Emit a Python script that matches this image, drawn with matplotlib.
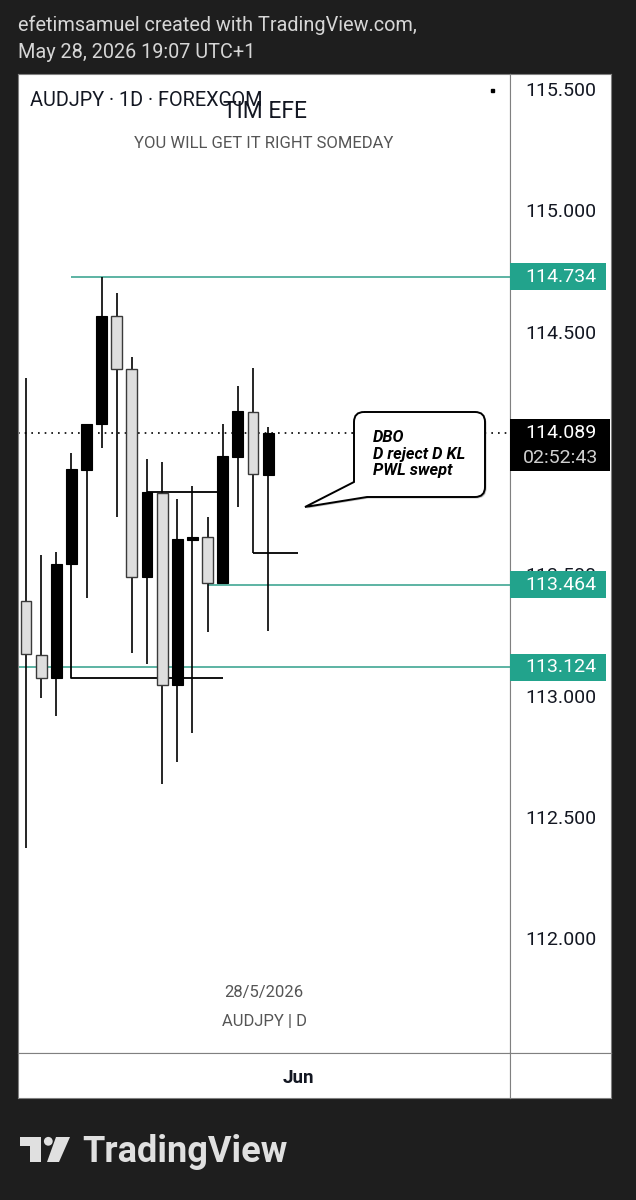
import numpy as np
import matplotlib.pyplot as plt
from matplotlib.patches import Rectangle, PathPatch, Polygon, Circle
from matplotlib.path import Path
from matplotlib.transforms import blended_transform_factory

plt.rcParams['font.family'] = ['Roboto', 'DejaVu Sans']

# daily candles, AUDJPY (oldest -> newest, last one = 28 May)
opens = [113.399, 113.176, 113.082, 113.550, 113.938, 114.127, 114.573, 114.354, 113.497,
         113.843, 113.052, 113.649, 113.662, 113.472, 113.991, 114.177, 113.917]
highs = [114.317, 113.587, 113.600, 114.008, 114.127, 114.734, 114.667, 114.404, 113.983,
         113.971, 113.818, 113.872, 113.744, 114.127, 114.284, 114.358, 114.115]
lows = [112.380, 112.998, 112.924, 113.550, 113.410, 114.028, 113.744, 113.183, 113.138,
        112.643, 112.734, 112.854, 113.270, 113.472, 113.785, 113.596, 113.274]
closes = [113.179, 113.082, 113.550, 113.942, 114.127, 114.573, 114.354, 113.497, 113.847,
          113.052, 113.653, 113.662, 113.472, 113.996, 114.181, 113.921, 114.089]

tick_prices = [115.5, 115.0, 114.5, 114.0, 113.5, 113.0, 112.5, 112.0]
level_prices = [114.734, 113.464, 113.124]
level_start = [3, 12, None]
current_price = 114.089
countdown = '02:52:43'

# drawn rays (bar index, price)
ray_x = [[3, 3, 13], [8, 13], [15, 18]]
ray_y = [[113.55, 113.08, 113.08], [113.847, 113.847], [113.596, 113.596]]

month_label = 'Jun'
month_idx = 18

TEAL = '#22a38c'
TEAL_LINE = '#4fae9c'
INK = '#131722'

W, H = 636, 1200
fig = plt.figure(figsize=(W / 100, H / 100), dpi=100, facecolor='#1e1e1e')


def frac(x0, y0, x1, y1):
    return [x0 / W, 1 - y1 / H, (x1 - x0) / W, (y1 - y0) / H]


ax = fig.add_axes(frac(18, 74, 510, 1053))
ax_p = fig.add_axes(frac(510, 74, 611, 1053), sharey=ax)
ax_t = fig.add_axes(frac(18, 1053, 510, 1098), sharex=ax)
ax_c = fig.add_axes(frac(510, 1053, 611, 1098))

x_left, x_right = -0.53, 31.99
y_bot, y_top = 111.535, 115.570
ax.set_xlim(x_left, x_right)
ax.set_ylim(y_bot, y_top)
ax_p.set_xlim(0, 101)
ax_t.set_ylim(0, 1)

for a in (ax, ax_p, ax_t, ax_c):
    a.set_facecolor('white')
    a.tick_params(left=False, bottom=False, labelleft=False, labelbottom=False)
    for s in a.spines.values():
        s.set_color('#808080')
        s.set_linewidth(0.8)
ax_c.set_xticks([])
ax_c.set_yticks([])

# candles
idx = np.arange(len(opens))
o = np.array(opens)
c = np.array(closes)
up = c >= o
body = np.abs(c - o)
ax.vlines(idx, lows, highs, color='black', lw=1.2, zorder=2)
ax.bar(idx[up], body[up], bottom=o[up], width=0.72, color='black',
       edgecolor='black', lw=0.8, zorder=3)
ax.bar(idx[~up], body[~up], bottom=c[~up], width=0.72, color='#dedede',
       edgecolor='#3a3a3a', lw=1.0, zorder=3)

# horizontal levels
for p, s in zip(level_prices, level_start):
    x0 = x_left if s is None else s
    ax.hlines(p, x0, x_right, color=TEAL_LINE, lw=1.3, zorder=1)

ax.axhline(current_price, color='black', lw=1.2, ls=(0, (1, 3)), zorder=1.5)

for rx, ry in zip(ray_x, ray_y):
    ax.plot(rx, ry, color='black', lw=1.3, zorder=2.5, solid_capstyle='butt')

# price scale
ppu = 979 / (y_top - y_bot)
box_top = current_price + 14.4 / ppu
box_bot = current_price - 37.6 / ppu
for t in tick_prices:
    if box_bot < t < box_top:
        continue  # fully hidden behind the last-price label
    ax_p.text(51, t, f'{t:.3f}', ha='center', va='center', fontsize=14, color=INK, zorder=2)

half = 13.5 / ppu
for p in level_prices:
    ax_p.add_patch(Rectangle((0, p - half), 96, 2 * half, color=TEAL, zorder=3, lw=0))
    ax_p.text(51, p, f'{p:.3f}', ha='center', va='center', fontsize=14, color='white', zorder=4)

ax_p.add_patch(Rectangle((0, box_bot), 100, box_top - box_bot, color='black', zorder=3, lw=0))
ax_p.text(51, current_price, f'{current_price:.3f}', ha='center', va='center',
          fontsize=14, color='white', zorder=4)
ax_p.text(51, current_price - 24.5 / ppu, countdown, ha='center', va='center',
          fontsize=14, color='#d0d0d0', zorder=4)

# time axis
ax_t.text(month_idx, 0.45, month_label,
          transform=blended_transform_factory(ax_t.transData, ax_t.transAxes),
          ha='center', va='center', fontsize=13.5, fontweight='bold', color=INK)

# overlay in pixel coordinates for texts / drawings
ov = fig.add_axes([0, 0, 1, 1], zorder=10)
ov.set_xlim(0, W)
ov.set_ylim(H, 0)
ov.axis('off')
ov.patch.set_alpha(0)

ov.text(18, 25, 'efetimsamuel created with TradingView.com,', ha='left', va='center',
        fontsize=14.3, color='#d6d6d6')
ov.text(18, 53, 'May 28, 2026 19:07 UTC+1', ha='left', va='center', fontsize=14.3, color='#d6d6d6')

ov.text(30, 100, 'AUDJPY · 1D · FOREXCOM', ha='left', va='center', fontsize=14.3, color=INK)
ov.text(265, 111, 'TIM EFE', ha='center', va='center', fontsize=16.5, color=INK)
ov.text(264, 143, 'YOU WILL GET IT RIGHT SOMEDAY', ha='center', va='center', fontsize=12, color='#555555')
ov.add_patch(Rectangle((490.5, 88.5), 3, 3, color='black'))

ov.text(264, 993, '28/5/2026', ha='center', va='center', fontsize=12, color='#555555')
ov.text(264, 1021, 'AUDJPY | D', ha='center', va='center', fontsize=12, color='#555555')

# callout
x0, x1, y0, y1, r = 354, 485, 412, 497, 10
verts = [(x0 + r, y0), (x1 - r, y0), (x1, y0), (x1, y0 + r), (x1, y1 - r), (x1, y1), (x1 - r, y1),
         (367, y1), (305, 507), (x0, 482), (x0, y0 + r), (x0, y0), (x0 + r, y0)]
codes = [Path.MOVETO, Path.LINETO, Path.CURVE3, Path.CURVE3, Path.LINETO, Path.CURVE3, Path.CURVE3,
         Path.LINETO, Path.LINETO, Path.LINETO, Path.LINETO, Path.CURVE3, Path.CURVE3]
shadow = Path([(vx + 1.5, vy + 1.5) for vx, vy in verts], codes)
ov.add_patch(PathPatch(shadow, fc='#c4c4c4', ec='none', zorder=1))
ov.add_patch(PathPatch(Path(verts, codes), fc='white', ec='black', lw=1.4, zorder=2))
for i, line in enumerate(['DBO', 'D reject D KL', 'PWL swept']):
    ov.text(373, 437 + 17 * i, line, ha='left', va='center', fontsize=11.8,
            fontweight='bold', fontstyle='italic', color='black', zorder=3)

# TradingView logo
logo = '#e0e0e0'
ov.add_patch(Polygon([(19.5, 1137), (40.5, 1137), (40.5, 1162), (29.5, 1162), (29.5, 1146),
                      (19.5, 1146)], closed=True, fc=logo, ec='none'))
ov.add_patch(Circle((48.3, 1141.3), 4.4, fc=logo, ec='none'))
ov.add_patch(Polygon([(56, 1137), (70, 1137), (59, 1162), (47, 1162)], closed=True, fc=logo, ec='none'))
ov.text(82, 1162, 'TradingView', ha='left', va='baseline', fontsize=26, fontweight='bold', color=logo)

fig.savefig('out.png', dpi=100, facecolor=fig.get_facecolor())
